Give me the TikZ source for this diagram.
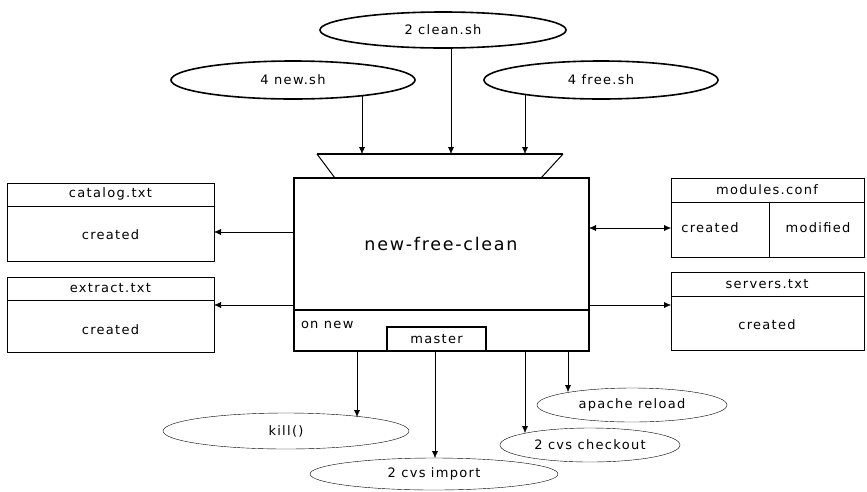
\documentclass[tikz,border=0pt]{standalone}
\usepackage{fontspec}
\newfontfamily\lbl[LetterSpace=10]{DejaVu Sans}
\usetikzlibrary{arrows.meta,shapes.geometric,backgrounds}

\begin{document}
\begin{tikzpicture}[x=1pt, y=-1pt, line width=1.6pt,
  every node/.style={inner sep=0pt, outer sep=0pt},
  txt/.style={font=\lbl\fontsize{13}{15}\selectfont},
  oval/.style={draw, ellipse, fill=white, txt},
  box/.style={draw, rectangle, anchor=north west},
  arr/.style={-{Latex[length=7pt,width=6pt]}},
  darr/.style={{Latex[length=7pt,width=6pt]}-{Latex[length=7pt,width=6pt]}}
]
\useasboundingbox (0,0) rectangle (867,491);

% central process box with its inlet hopper
\node[box, minimum width=295, minimum height=173] (main) at (294,178) {};
\node[font=\lbl\fontsize{17.5}{20}\selectfont] (title) at (441,244) {new-free-clean};
\draw (main.west |- 0,310) -- (main.east |- 0,310);
\node[txt, anchor=west] (onnew) at (301,325) {on new};
\node[draw, minimum width=99, minimum height=24, anchor=south west, txt] (master) at (387,351) {master};

\coordinate (tl) at (317,154);
\coordinate (tr) at (563,154);
\coordinate (bl) at (335,178);
\coordinate (br) at (541,178);
\draw[line width=1pt] (bl) -- (tl);
\draw (tl) -- (tr);
\draw[line width=1pt] (tr) -- (br);

% input scripts
\node[oval, minimum width=246, minimum height=36] (clean) at (443,30) {2 clean.sh};
\node[oval, minimum width=244, minimum height=38] (newsh) at (293,80) {4 new.sh};
\node[oval, minimum width=234, minimum height=38] (freesh) at (601,80) {4 free.sh};

\coordinate (a1) at (362,154);
\coordinate (a2) at (451,154);
\coordinate (a3) at (525,154);
\begin{pgfonlayer}{background}
  \draw[arr] (newsh.center -| a1) -- (a1);
  \draw[arr] (clean.center -| a2) -- (a2);
  \draw[arr] (freesh.center -| a3) -- (a3);
\end{pgfonlayer}

% output actions
\node[oval, minimum width=246, minimum height=36] (kill) at (286,431) {kill()};
\node[oval, minimum width=248, minimum height=32] (import) at (434,474) {2 cvs import};
\node[oval, minimum width=190, minimum height=34] (apache) at (632,405) {apache reload};
\node[oval, minimum width=180, minimum height=34] (checkout) at (590,445) {2 cvs checkout};

\coordinate (k1) at (357,417);
\coordinate (k2) at (435,458);
\coordinate (k3) at (525,433);
\coordinate (k4) at (568,392);
\draw[arr] (main.south -| k1) -- (k1);
\draw[arr] (master.south -| k2) -- (k2);
\draw[arr] (main.south -| k3) -- (k3);
\draw[arr] (main.south -| k4) -- (k4);

% files on the left
\node[box, minimum width=207, minimum height=78] (catalog) at (7,183) {};
\draw (catalog.west |- 0,206) -- (catalog.east |- 0,206);
\node[txt] (catalogh) at (110.5,194) {catalog.txt};
\node[txt] (catalogc) at (110.5,235) {created};

\node[box, minimum width=207, minimum height=75] (extract) at (7,277) {};
\draw (extract.west |- 0,300) -- (extract.east |- 0,300);
\node[txt] (extracth) at (110.5,288) {extract.txt};
\node[txt] (extractc) at (110.5,330) {created};

% files on the right
\node[box, minimum width=193, minimum height=79] (modules) at (671,178) {};
\draw (modules.west |- 0,202) -- (modules.east |- 0,202);
\draw (769,202) -- (modules.south -| 769,0);
\node[txt] (modulesh) at (767,190) {modules.conf};
\node[txt] (modulesc) at (710,228) {created};
\node[txt] (modulesm) at (818,228) {modified};

\node[box, minimum width=193, minimum height=78] (servers) at (671,272) {};
\draw (servers.west |- 0,296) -- (servers.east |- 0,296);
\node[txt] (serversh) at (767,284) {servers.txt};
\node[txt] (serversc) at (767,325) {created};

% file connectors
\draw[arr] (main.west |- 0,232) -- (catalog.east |- 0,232);
\draw[arr] (main.west |- 0,305) -- (extract.east |- 0,305);
\draw[darr] (main.east |- 0,228) -- (modules.west |- 0,228);
\draw[arr] (main.east |- 0,305) -- (servers.west |- 0,305);
\end{tikzpicture}
\end{document}
